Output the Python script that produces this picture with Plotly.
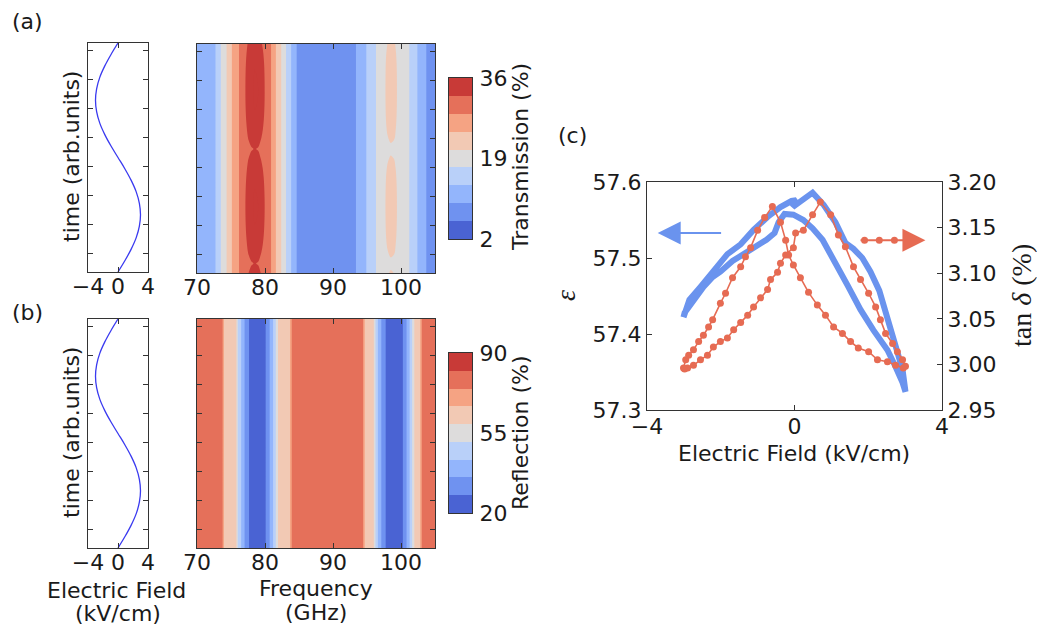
import plotly.graph_objects as go

W, H = 1037, 626

# ---------------- data ----------------
# (a)/(b) left panels: applied field vs time
FIELD_TIME = [0.00, 0.05, 0.10, 0.15, 0.20, 0.25, 0.30, 0.35, 0.40, 0.45, 0.50,
              0.55, 0.60, 0.65, 0.70, 0.75, 0.80, 0.85, 0.90, 0.95, 1.00]
FIELD_KV = [0.00, 0.93, 1.76, 2.43, 2.85, 3.00, 2.85, 2.43, 1.76, 0.93, 0.00,
            -0.93, -1.76, -2.43, -2.85, -3.00, -2.85, -2.43, -1.76, -0.93, 0.00]
TIME_TICKS = [0.082, 0.208, 0.335, 0.462, 0.588, 0.715, 0.842, 0.968]
FIELD_TICKS = [-4, 0, 4]

# rows of the maps (time) and the field-induced modulation depth read per row
MAP_TIME = [0.000, 0.042, 0.083, 0.125, 0.167, 0.208, 0.250, 0.292, 0.333, 0.375,
            0.417, 0.458, 0.500, 0.542, 0.583, 0.625, 0.667, 0.708, 0.750, 0.792,
            0.833, 0.875, 0.917, 0.958, 1.000]
MOD_DEPTH = [0.25, 0.01, 0.27, 0.51, 0.72, 0.87, 0.97, 1.00, 0.96, 0.86,
             0.70, 0.49, 0.25, 0.01, 0.27, 0.51, 0.72, 0.87, 0.97, 1.00,
             0.98, 0.92, 0.80, 0.62, 0.40]

# (a) transmission spectra (%): at zero field and at peak field
FREQ_T = [70, 71, 72, 72.5, 73, 73.5, 74, 74.5, 75, 75.5, 76, 76.5, 77, 77.5, 78,
          78.5, 79, 79.5, 80, 80.5, 81, 81.5, 82, 82.5, 83, 83.5, 84, 84.5, 85,
          86, 88, 90, 92, 93, 93.5, 94, 94.5, 95, 95.5, 96, 96.5, 97, 97.5, 98,
          98.5, 99, 99.5, 100, 100.5, 101, 101.5, 102, 102.5, 103, 103.5, 104, 105]
TRANS_PEAK = [11.2, 11.5, 12.2, 12.5, 14.4, 17.1, 19.2, 21.6, 24.2, 26.0, 27.8, 29.6,
              31.8, 33.6, 35.5, 36.5, 36.0, 34.2, 32.0, 30.0, 28.0, 25.2, 22.5, 20.4,
              17.6, 15.0, 12.6, 10.0, 8.6, 7.8, 7.3, 7.2, 7.6, 8.8, 9.8, 11.0, 12.3,
              13.6, 14.9, 16.2, 17.6, 18.9, 20.2, 21.8, 23.2, 22.5, 20.5, 19.4, 18.4,
              17.5, 16.6, 14.8, 13.0, 11.6, 10.0, 9.0, 8.5]
TRANS_ZERO = [11.2, 11.5, 12.2, 12.5, 14.4, 17.1, 19.2, 21.6, 24.2, 26.0, 27.8, 29.6,
              30.8, 31.6, 32.0, 32.3, 32.0, 31.2, 30.5, 30.0, 28.0, 25.2, 22.5, 20.4,
              17.6, 15.0, 12.6, 10.0, 8.6, 7.8, 7.3, 7.2, 7.6, 8.8, 9.8, 11.0, 12.3,
              13.6, 14.9, 16.2, 17.6, 18.9, 20.2, 20.3, 20.4, 20.3, 19.9, 19.4, 18.4,
              17.5, 16.6, 14.8, 13.0, 11.6, 10.0, 9.0, 8.5]

# (b) reflection spectrum (%)
FREQ_R = [70, 72, 73, 73.5, 73.75, 74, 75, 75.5, 75.8, 76, 76.25, 76.5, 77, 77.5, 78,
          78.5, 79, 79.5, 80, 80.5, 81, 81.5, 82, 83, 83.5, 83.75, 84, 86, 90, 94,
          94.4, 94.7, 95.5, 96, 96.25, 96.5, 97, 97.5, 98, 98.5, 99, 99.5, 100,
          100.5, 101, 101.5, 102, 102.5, 102.8, 103.1, 104, 105]
REFL = [77.5, 77.5, 77.0, 76.0, 75.0, 65.0, 63.0, 61.0, 58.9, 51.0, 47.0, 43.3, 35.5,
        29.0, 25.0, 22.0, 21.0, 22.5, 26.5, 33.0, 40.0, 49.0, 61.0, 63.5, 64.5, 67.5,
        77.0, 78.0, 78.0, 77.5, 75.5, 65.5, 61.0, 58.9, 51.0, 45.0, 37.0, 30.0, 25.5,
        22.5, 21.5, 22.0, 24.5, 30.5, 38.5, 47.5, 60.0, 64.0, 66.0, 76.0, 78.0, 78.0]

FREQ_TICKS = [70, 80, 90, 100]
TRANS_LEVELS = (2, 36)
TRANS_CB_TICKS = [2, 19, 36]
REFL_LEVELS = (20, 90)
REFL_CB_TICKS = [20, 55, 90]
N_BANDS = 9

# (c) permittivity loop and loss tangent loop
EPS_FIELD = [-3.01, -2.85, -2.55, -2.25, -1.82, -1.46, -1.11, -0.73, -0.38, -0.08, 0.05,
             -0.05, 0.16, 0.49, 0.79, 1.11, 1.38, 1.60, 1.84, 2.06, 2.30, 2.52, 2.76,
             2.93, 3.01, 2.93, 2.74, 2.52, 2.14, 1.79, 1.44, 1.11, 0.76, 0.49, 0.24,
             -0.03, -0.27, -0.43, -0.54, -0.76, -1.03, -1.38, -1.68, -2.01, -2.22,
             -2.47, -2.71, -2.87, -2.98, -3.01]
EPS_VALUE = [57.422, 57.445, 57.462, 57.479, 57.505, 57.518, 57.537, 57.554, 57.567,
             57.575, 57.576, 57.567, 57.575, 57.586, 57.570, 57.547, 57.520, 57.512,
             57.500, 57.482, 57.457, 57.421, 57.383, 57.353, 57.324, 57.336, 57.357,
             57.379, 57.405, 57.432, 57.464, 57.495, 57.524, 57.539, 57.550, 57.557,
             57.558, 57.547, 57.533, 57.524, 57.516, 57.507, 57.496, 57.482, 57.475,
             57.462, 57.447, 57.437, 57.428, 57.422]

TAN_FIELD = [-3.01, -2.95, -2.87, -2.74, -2.60, -2.47, -2.33, -2.22, -2.01, -1.87,
             -1.68, -1.46, -1.33, -1.19, -1.00, -0.81, -0.60,
             -0.38, -0.24, -0.16, -0.03, 0.16, 0.38, 0.62, 0.84, 1.06, 1.30, 1.52,
             1.73, 2.01, 2.25, 2.52, 2.74, 2.95,
             3.01, 2.93, 2.79, 2.66, 2.47, 2.33, 2.20, 2.01, 1.79, 1.60, 1.38, 1.19,
             0.98, 0.70,
             0.49, 0.24, 0.03, -0.03, -0.24, -0.38, -0.46, -0.65, -0.73, -0.92, -1.11,
             -1.27, -1.46, -1.65, -1.82, -2.01, -2.20, -2.36, -2.55, -2.74, -2.90, -2.98]
TAN_VALUE = [2.996, 3.005, 3.010, 3.016, 3.025, 3.032, 3.041, 3.049, 3.067, 3.078,
             3.095, 3.107, 3.118, 3.128, 3.147, 3.161, 3.173,
             3.156, 3.136, 3.120, 3.109, 3.095, 3.079, 3.065, 3.054, 3.041, 3.034, 3.025,
             3.018, 3.014, 3.005, 3.003, 2.999, 2.996,
             2.998, 3.005, 3.014, 3.023, 3.034, 3.049, 3.063, 3.078, 3.093, 3.107, 3.129,
             3.142, 3.164, 3.178,
             3.164, 3.147, 3.144, 3.128, 3.120, 3.111, 3.101, 3.093, 3.082, 3.073, 3.063,
             3.054, 3.046, 3.038, 3.029, 3.025, 3.019, 3.010, 3.005, 2.999, 2.996, 2.995]

# arrows in (c) (field, value on their own axis)
EPS_ARROW = dict(tail=-1.95, tip=-3.71, level=57.533)
TAN_ARROW = dict(tail=1.75, tip=3.55, level=3.136, dots=[1.90, 2.30, 2.71])

# ---------------- style ----------------
FONT = "DejaVu Sans"
SERIF = "Liberation Serif"
TEXT = "#1a1a1a"
FRAME = "#333333"
FIELD_LINE = "#3a3af0"
BLUE = "#6a93ee"
RED = "#e66b53"
BAND_COLORS = ["#4a63d3", "#6f92f0", "#93b5fc", "#b9d0f9", "#dddcdc",
               "#f2c9b4", "#f5a383", "#e5705a", "#c83a37"]


def step_scale(colors):
    # contour fill of band k is evaluated at colorscale position (k+1)/(n+1)
    n = len(colors)
    edges = [0.0] + [(k + 1.5) / (n + 1) for k in range(n - 1)] + [1.0]
    scale = []
    for k, c in enumerate(colors):
        scale.append([edges[k], c])
        scale.append([edges[k + 1], c])
    return scale


def px_x(p):
    return p / W


def px_y(p):
    return 1 - p / H


trans_z = [[lo + w * (hi - lo) for lo, hi in zip(TRANS_ZERO, TRANS_PEAK)] for w in MOD_DEPTH]
refl_z = [list(REFL) for _ in MOD_DEPTH]

fig = go.Figure()

# (a) field
fig.add_trace(go.Scatter(x=FIELD_KV, y=FIELD_TIME, mode="lines", line=dict(color=FIELD_LINE, width=1.3, shape="spline"),
                         xaxis="x", yaxis="y", showlegend=False, hoverinfo="skip"))
# (b) field
fig.add_trace(go.Scatter(x=FIELD_KV, y=FIELD_TIME, mode="lines", line=dict(color=FIELD_LINE, width=1.3, shape="spline"),
                         xaxis="x3", yaxis="y3", showlegend=False, hoverinfo="skip"))


def contour(freq, z, levels, xa, ya):
    lo, hi = levels
    return go.Contour(
        x=freq, y=MAP_TIME, z=z, xaxis=xa, yaxis=ya,
        autocontour=False,
        contours=dict(start=lo, end=hi, size=(hi - lo) / N_BANDS, coloring="fill", showlines=False),
        line=dict(width=0),
        colorscale=step_scale(BAND_COLORS),
        showscale=False,
        hoverinfo="skip",
    )


def color_key(levels, xa, ya):
    lo, hi = levels
    size = (hi - lo) / N_BANDS
    bases = [lo + k * size for k in range(N_BANDS)]
    return go.Bar(x=[0] * N_BANDS, y=[size] * N_BANDS, base=bases, width=1,
                  marker=dict(color=BAND_COLORS, line=dict(width=0)),
                  xaxis=xa, yaxis=ya, showlegend=False, hoverinfo="skip")


fig.add_trace(contour(FREQ_T, trans_z, TRANS_LEVELS, "x2", "y2"))
fig.add_trace(contour(FREQ_R, refl_z, REFL_LEVELS, "x4", "y4"))
fig.add_trace(color_key(TRANS_LEVELS, "x6", "y7"))
fig.add_trace(color_key(REFL_LEVELS, "x7", "y8"))

# (c)
fig.add_trace(go.Scatter(x=EPS_FIELD, y=EPS_VALUE, mode="lines", line=dict(color=BLUE, width=6),
                         xaxis="x5", yaxis="y5", showlegend=False, hoverinfo="skip"))
fig.add_trace(go.Scatter(x=TAN_FIELD, y=TAN_VALUE, mode="lines+markers", line=dict(color=RED, width=1.6),
                         marker=dict(color=RED, size=7), xaxis="x5", yaxis="y6", showlegend=False, hoverinfo="skip"))
fig.add_trace(go.Scatter(x=TAN_ARROW["dots"], y=[TAN_ARROW["level"]] * len(TAN_ARROW["dots"]), mode="markers",
                         marker=dict(color=RED, size=7), xaxis="x5", yaxis="y6", showlegend=False, hoverinfo="skip"))

tickfont = dict(family=FONT, size=22, color=TEXT)
common = dict(showline=True, linecolor=FRAME, linewidth=1, mirror="ticks", ticks="inside", ticklen=5,
              tickcolor=FRAME, showgrid=False, zeroline=False, tickfont=tickfont, automargin=False)
xcommon = dict(common, ticklabelstandoff=-5)

layout = dict(width=W, height=H, margin=dict(l=0, r=0, t=0, b=0, pad=0, autoexpand=False),
              paper_bgcolor="white", plot_bgcolor="white", bargap=0,
              showlegend=False, font=dict(family=FONT, color=TEXT))

layout["xaxis"] = dict(xcommon, domain=[px_x(88), px_x(148)], anchor="y", range=[-4, 4], tickvals=FIELD_TICKS)
layout["yaxis"] = dict(common, domain=[px_y(272), px_y(43)], anchor="x", range=[0, 1], tickvals=TIME_TICKS,
                       showticklabels=False)
layout["xaxis2"] = dict(xcommon, domain=[px_x(197), px_x(435)], anchor="y2", range=[70, 105], tickvals=FREQ_TICKS)
layout["yaxis2"] = dict(common, domain=[px_y(273), px_y(44)], anchor="x2", range=[0, 1], tickvals=TIME_TICKS,
                        showticklabels=False)
layout["xaxis3"] = dict(xcommon, domain=[px_x(88), px_x(148)], anchor="y3", range=[-4, 4], tickvals=FIELD_TICKS)
layout["yaxis3"] = dict(common, domain=[px_y(548), px_y(319)], anchor="x3", range=[0, 1], tickvals=TIME_TICKS,
                        showticklabels=False)
layout["xaxis4"] = dict(xcommon, domain=[px_x(197), px_x(435)], anchor="y4", range=[70, 105], tickvals=FREQ_TICKS)
layout["yaxis4"] = dict(common, domain=[px_y(548), px_y(319)], anchor="x4", range=[0, 1], tickvals=TIME_TICKS,
                        showticklabels=False)
layout["xaxis5"] = dict(common, domain=[px_x(647), px_x(942)], anchor="y5", range=[-4, 4], tickvals=[-4, 0, 4],
                        ticklabelstandoff=-3)
layout["yaxis5"] = dict(common, domain=[px_y(410), px_y(182)], anchor="x5", range=[57.3, 57.6],
                        tickvals=[57.3, 57.4, 57.5, 57.6], tickformat=".1f", mirror=False)
layout["yaxis6"] = dict(common, domain=[px_y(410), px_y(182)], anchor="x5", overlaying="y5", side="right",
                        range=[2.95, 3.20], tickvals=[2.95, 3.00, 3.05, 3.10, 3.15, 3.20], tickformat=".2f",
                        mirror=False)

# colour keys
key_x = dict(showline=True, linecolor=FRAME, linewidth=1, mirror=True, ticks="", showticklabels=False,
             showgrid=False, zeroline=False, range=[-0.5, 0.5], fixedrange=True, automargin=False,
             domain=[px_x(449), px_x(472)])
key_y = dict(showline=True, linecolor=FRAME, linewidth=1, mirror=True, ticks="", side="right",
             showgrid=False, zeroline=False, tickfont=tickfont, automargin=False, ticklabelstandoff=2)
layout["xaxis6"] = dict(key_x, anchor="y7")
layout["yaxis7"] = dict(key_y, anchor="x6", domain=[px_y(239), px_y(78)], range=list(TRANS_LEVELS),
                        tickvals=TRANS_CB_TICKS)
layout["xaxis7"] = dict(key_x, anchor="y8")
layout["yaxis8"] = dict(key_y, anchor="x7", domain=[px_y(513), px_y(353)], range=list(REFL_LEVELS),
                        tickvals=REFL_CB_TICKS)

ann = []


def label(text, x, y, size=22, angle=0, family=FONT):
    ann.append(dict(text=text, x=px_x(x), y=px_y(y), xref="paper", yref="paper", showarrow=False,
                    xanchor="center", yanchor="middle", textangle=angle,
                    font=dict(family=family, size=size, color=TEXT)))


label("(a)", 27, 21)
label("(b)", 27, 312)
label("(c)", 572, 136)
label("time (arb.units)", 71, 157, angle=-90)
label("time (arb.units)", 71, 433, angle=-90)
label("Electric Field", 116, 590)
label("(kV/cm)", 118, 613)
label("Frequency", 316, 588)
label("(GHz)", 316, 612)
label("Transmission (%)", 520, 157, angle=-90)
label("Reflection (%)", 520, 433, angle=-90)
label("Electric Field (kV/cm)", 794, 453)
label("<i>ε</i>", 566, 296, size=28, angle=-90, family=SERIF)
label("tan <i>δ</i> (%)", 1022, 296, size=28, angle=-90, family=SERIF)

ann.append(dict(x=EPS_ARROW["tip"], y=EPS_ARROW["level"], ax=EPS_ARROW["tail"], ay=EPS_ARROW["level"],
                xref="x5", yref="y5", axref="x5", ayref="y5", text="", showarrow=True,
                arrowhead=2, arrowsize=2.3, arrowwidth=2, arrowcolor=BLUE, standoff=0))
ann.append(dict(x=TAN_ARROW["tip"], y=TAN_ARROW["level"], ax=TAN_ARROW["tail"], ay=TAN_ARROW["level"],
                xref="x5", yref="y6", axref="x5", ayref="y6", text="", showarrow=True,
                arrowhead=2, arrowsize=2.3, arrowwidth=2, arrowcolor=RED, standoff=0))

layout["annotations"] = ann
fig.update_layout(**layout)
fig.write_html("out.html")
